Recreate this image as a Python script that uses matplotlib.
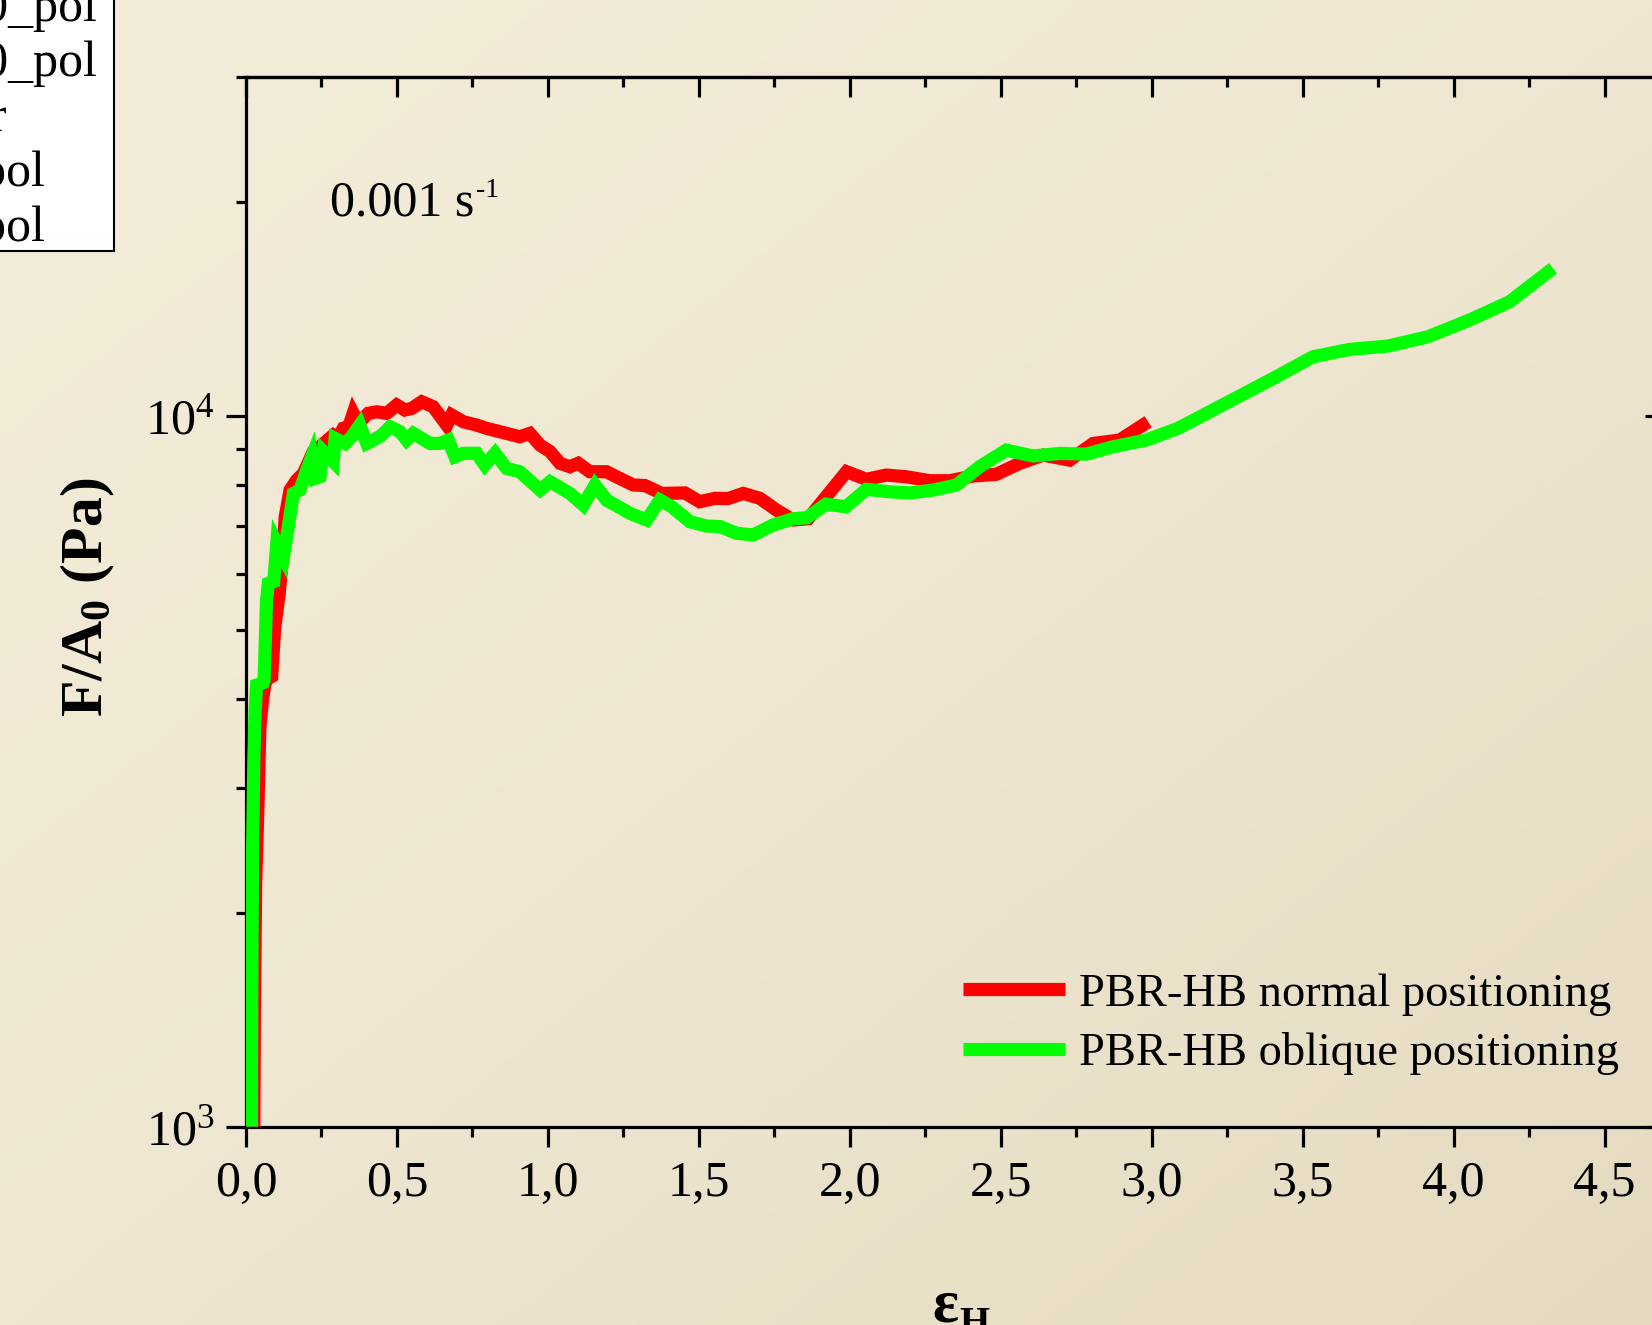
import numpy as np
import matplotlib
matplotlib.use('Agg')
import matplotlib.pyplot as plt
from matplotlib.ticker import MultipleLocator, FuncFormatter, LogLocator, NullFormatter
from matplotlib.patches import Rectangle

plt.rcParams['font.family'] = ['Liberation Serif', 'DejaVu Serif']
plt.rcParams['mathtext.fontset'] = 'custom'
plt.rcParams['mathtext.rm'] = 'Liberation Serif'
plt.rcParams['mathtext.it'] = 'Liberation Serif:italic'
plt.rcParams['mathtext.bf'] = 'Liberation Serif:bold'

# ---------------- data ----------------
red_x = [0.026, 0.028, 0.032, 0.036, 0.040, 0.046, 0.055, 0.065, 0.085, 0.095,
         0.110, 0.122, 0.130, 0.146, 0.168, 0.190, 0.223, 0.251, 0.289, 0.305,
         0.322, 0.340, 0.355, 0.372, 0.405, 0.433, 0.466, 0.499, 0.526, 0.549,
         0.582, 0.620, 0.665, 0.681, 0.720, 0.764, 0.797, 0.863, 0.907, 0.940,
         0.974, 1.007, 1.040, 1.073, 1.100, 1.139, 1.194, 1.227, 1.283, 1.321,
         1.377, 1.454, 1.503, 1.553, 1.597, 1.647, 1.702, 1.757, 1.812, 1.862,
         1.989, 2.055, 2.121, 2.187, 2.265, 2.331, 2.408, 2.485, 2.563, 2.640,
         2.728, 2.806, 2.894, 2.988]
red_y = [1000, 1500, 2200, 2500, 2880, 3650, 4000, 4250, 4300, 5030,
         5630, 6410, 7218, 7870, 8128, 8300, 8914, 9100, 9398, 9300,
         9609, 9650, 10088, 9764, 10088, 10139, 10088, 10363, 10198, 10251,
         10474, 10306, 9711, 10033, 9817, 9711, 9609, 9453, 9351, 9453,
         9100, 8914, 8581, 8486, 8581, 8350, 8350, 8214, 7998, 7985,
         7783, 7795, 7576, 7660, 7655, 7783, 7660, 7375, 7141, 7170,
         8350, 8147, 8260, 8214, 8110, 8110, 8235, 8280, 8581, 8811,
         8670, 9150, 9252, 9817]

green_x = [0.018, 0.019, 0.022, 0.026, 0.030, 0.035, 0.057, 0.060, 0.068, 0.074,
           0.092, 0.102, 0.124, 0.140, 0.157, 0.179, 0.201, 0.218, 0.229, 0.245,
           0.256, 0.289, 0.295, 0.328, 0.350, 0.377, 0.400, 0.422, 0.449, 0.477,
           0.510, 0.532, 0.554, 0.609, 0.642, 0.670, 0.692, 0.720, 0.764, 0.791,
           0.825, 0.863, 0.907, 0.974, 1.007, 1.073, 1.117, 1.156, 1.194, 1.272,
           1.327, 1.371, 1.410, 1.470, 1.525, 1.570, 1.625, 1.680, 1.746, 1.812,
           1.857, 1.921, 1.987, 2.055, 2.132, 2.199, 2.276, 2.353, 2.430, 2.518,
           2.607, 2.695, 2.784, 2.870, 2.982, 3.087, 3.203, 3.413, 3.534, 3.656,
           3.782, 3.915, 4.053, 4.185, 4.329]
green_y = [1000, 1500, 2500, 3300, 3817, 4183, 4215, 4250, 5500, 5815,
           5850, 6622, 6339, 6988, 7783, 7870, 8395, 8766, 8170, 8214,
           8914, 8625, 9301, 9152, 9351, 9711, 9152, 9252, 9398, 9661,
           9506, 9252, 9453, 9152, 9152, 9252, 8766, 8863, 8863, 8532,
           8863, 8439, 8350, 7870, 8084, 7783, 7496, 7998, 7617, 7295,
           7141, 7617, 7455, 7102, 7003, 6990, 6840, 6803, 7027, 7170,
           7192, 7516, 7455, 7886, 7824, 7795, 7868, 7998, 8486, 8954,
           8786, 8860, 8840, 9050, 9252, 9609, 10198, 11360, 12118, 12412,
           12546, 12930, 13651, 14480, 16140]

series_labels = ['PBR-HB normal positioning', 'PBR-HB oblique positioning']
old_legend_labels = ['PBR-HB_0.01_100_pol', 'PBR-HB_0.1_100_pol', 'PBR-HB_linear',
                     'PBR-HB_0.001_pol', 'PBR-HB_0.003_pol']

# ---------------- figure ----------------
W, H = 1652, 1325
DPI = 100
fig = plt.figure(figsize=(W / DPI, H / DPI), dpi=DPI)

# background gradient
bg = fig.add_axes([0, 0, 1, 1], zorder=-10)
gx, gy = np.meshgrid(np.linspace(0, 1, 200), np.linspace(0, 1, 200))
t = np.clip((gx + gy) / 2.0, 0, 1) ** 1.6
c0 = np.array([243, 236, 216]) / 255.0
c1 = np.array([228, 218, 192]) / 255.0
img = c0[None, None, :] * (1 - t[..., None]) + c1[None, None, :] * t[..., None]
bg.imshow(img, extent=[0, 1, 0, 1], aspect='auto', origin='upper')
bg.set_axis_off()


def fx(px):
    return px / W


def fy(py):
    return 1 - py / H


left, right, top, bottom = 246, 1665, 77, 1126.7
ax = fig.add_axes([fx(left), fy(bottom), (right - left) / W, (bottom - top) / H])
ax.patch.set_alpha(0)

lw = 9.5
ax.plot(red_x, red_y, color='#ff0000', lw=lw, solid_joinstyle='miter',
        solid_capstyle='butt', label=series_labels[0], zorder=3)
ax.plot(green_x, green_y, color='#00ff00', lw=lw, solid_joinstyle='miter',
        solid_capstyle='butt', label=series_labels[1], zorder=4)

ax.set_yscale('log')
ax.set_xlim(0, 4.7)
ax.set_ylim(1000, 30000)

spw = 2.3
for s in ax.spines.values():
    s.set_linewidth(spw)

ax.xaxis.set_major_locator(MultipleLocator(0.5))
ax.xaxis.set_minor_locator(MultipleLocator(0.25))
ax.xaxis.set_major_formatter(FuncFormatter(lambda v, p: f"{v:.1f}".replace('.', ',')))
ax.yaxis.set_major_locator(LogLocator(base=10, numticks=10))
ax.yaxis.set_minor_locator(LogLocator(base=10, subs=range(2, 10), numticks=20))
ax.yaxis.set_minor_formatter(NullFormatter())
ax.yaxis.set_major_formatter(FuncFormatter(
    lambda v, p: r'$\mathregular{10^{%d}}$' % int(round(np.log10(v)))))

ax.tick_params(which='major', direction='out', length=14.5, width=spw,
               labelsize=36, top=False, right=False)
ax.tick_params(which='minor', direction='out', length=7.2, width=spw,
               top=False, right=False)
ax.tick_params(axis='x', which='major', pad=10)
ax.tick_params(axis='y', which='major', pad=8)

# mirrored top / right axes with ticks pointing inward
sx = ax.secondary_xaxis('top')
sx.xaxis.set_major_locator(MultipleLocator(0.5))
sx.xaxis.set_minor_locator(MultipleLocator(0.25))
sx.tick_params(which='major', direction='in', length=14.5, width=spw, labeltop=False)
sx.tick_params(which='minor', direction='in', length=7.2, width=spw)
sx.spines['top'].set_linewidth(spw)

sy = ax.secondary_yaxis('right')
sy.yaxis.set_major_locator(LogLocator(base=10, numticks=10))
sy.yaxis.set_minor_locator(LogLocator(base=10, subs=range(2, 10), numticks=20))
sy.yaxis.set_minor_formatter(NullFormatter())
sy.tick_params(which='major', direction='in', length=14.5, width=spw, labelright=False)
sy.tick_params(which='minor', direction='in', length=7.2, width=spw)
sy.spines['right'].set_linewidth(spw)

# axis labels
fig.text(fx(88), fy(597), r'F/A$_{\mathbf{0}}$ (Pa)', rotation=90, fontsize=43,
         fontweight='bold', ha='center', va='center')
fig.text(fx(945), fy(1322), 'ε', fontsize=44, fontweight='bold',
         ha='center', va='baseline')
fig.text(fx(974), fy(1334), 'H', fontsize=28, fontweight='bold',
         ha='center', va='baseline')

# rate annotation
fig.text(fx(330), fy(216), '0.001 s', fontsize=36, ha='left', va='baseline')
fig.text(fx(476), fy(197), '-1', fontsize=20, ha='left', va='baseline')

# legend
leg = ax.legend(loc='upper left', bbox_to_anchor=(fx(963), fy(973)),
                bbox_transform=fig.transFigure, frameon=False, fontsize=33.5,
                handlelength=2.2, handletextpad=0.3, labelspacing=0.36,
                borderpad=0, borderaxespad=0)

# truncated legend box at top-left (partly outside the canvas)
fig.patches.append(Rectangle((fx(-200), fy(251)), (114 + 200) / W, (251 + 50) / H,
                             transform=fig.transFigure, facecolor='white',
                             edgecolor='black', linewidth=1.5, zorder=1))
ends = [97, 97, 7, 45, 45]
bases = [21, 76, 131, 186, 241]
for lab, xe, yb in zip(old_legend_labels, ends, bases):
    fig.text(fx(xe), fy(yb), lab, fontsize=36, ha='right', va='baseline', zorder=2)

fig.savefig('out.png', dpi=DPI)
